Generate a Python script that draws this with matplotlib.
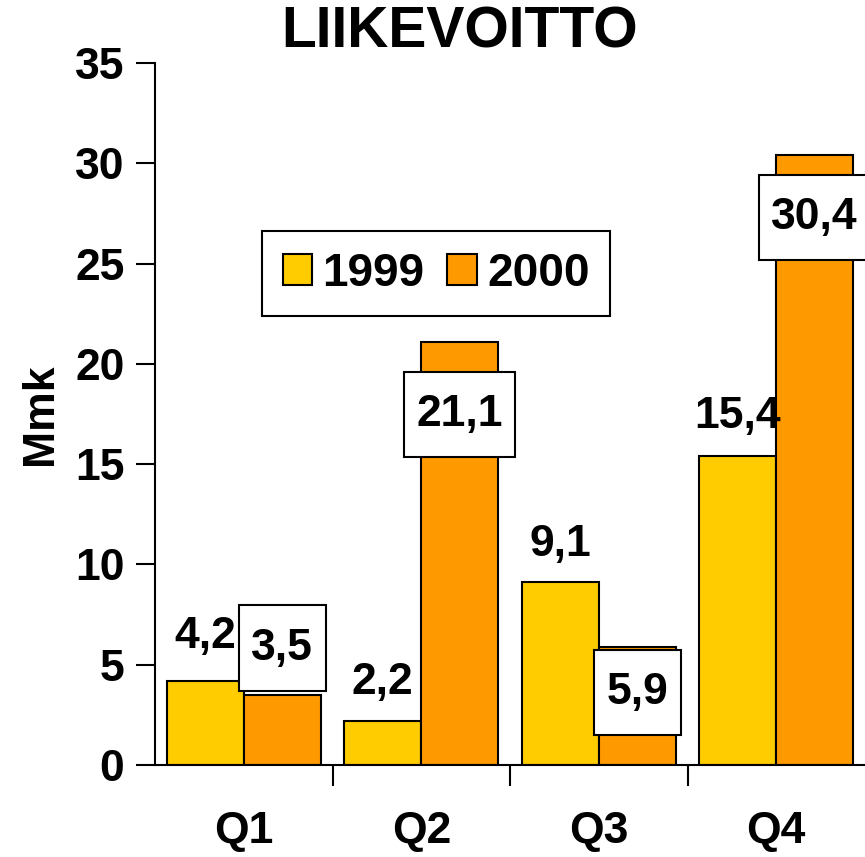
import matplotlib
matplotlib.use("Agg")
import matplotlib.pyplot as plt
from matplotlib.path import Path
import numpy as np

plt.rcParams['font.family'] = ['Liberation Sans', 'DejaVu Sans']
plt.rcParams['font.weight'] = 'bold'

categories = ["Q1", "Q2", "Q3", "Q4"]
series_names = ["1999", "2000"]
values_1999 = [4.2, 2.2, 9.1, 15.4]
values_2000 = [3.5, 21.1, 5.9, 30.4]
# label centre heights (data units) as placed in the original
label_y_1999 = [6.4, 4.1, 11.0, 17.4]
label_y_2000 = [5.83, 17.47, 3.61, 27.29]
yticks = [0, 5, 10, 15, 20, 25, 30, 35]

c1999 = "#FFCC00"
c2000 = "#FF9900"


def box_style(x0, y0, width, height, mutation_size):
    # asymmetric padding: narrower sides, taller top/bottom
    px = 0.28 * mutation_size
    py = 0.50 * mutation_size
    x0, y0 = x0 - px, y0 - py
    x1, y1 = x0 + width + 2 * px, y0 + height + 2 * py
    return Path([(x0, y0), (x1, y0), (x1, y1), (x0, y1), (x0, y0)],
                [Path.MOVETO, Path.LINETO, Path.LINETO, Path.LINETO, Path.CLOSEPOLY])


fig = plt.figure(figsize=(8.65, 8.57), dpi=100)
ax = fig.add_axes([155/865, 1-765/857, 710/865, (765-63)/857])

x = np.arange(len(categories))
w = 0.434
ax.bar(x - w/2, values_1999, w, color=c1999, edgecolor="black", linewidth=1.5, label=series_names[0])
ax.bar(x + w/2, values_2000, w, color=c2000, edgecolor="black", linewidth=1.5, label=series_names[1])

fmt = lambda v: f"{v:.1f}".replace(".", ",")
for xi, v, ly in zip(x, values_1999, label_y_1999):
    ax.text(xi - w/2, ly, fmt(v), ha="center", va="center", fontsize=32, fontweight="bold")
for xi, v, ly in zip(x, values_2000, label_y_2000):
    ax.text(xi + w/2, ly, fmt(v), ha="center", va="center", fontsize=32, fontweight="bold",
            bbox=dict(boxstyle=box_style, facecolor="white", edgecolor="black", linewidth=1.5),
            clip_on=False, zorder=5)

ax.set_xlim(-0.5, 3.5)
ax.set_ylim(0, 35)
ax.set_yticks(yticks)
ax.set_yticklabels([str(t) for t in yticks], fontsize=32, fontweight="bold")
ax.set_xticks(x)
ax.set_xticklabels(categories, fontsize=32, fontweight="bold")
ax.tick_params(axis="x", which="major", length=0, pad=33)
ax.set_xticks([0.5, 1.5, 2.5], minor=True)
ax.tick_params(axis="x", which="minor", length=15, width=1.5, direction="out")
ax.tick_params(axis="y", length=14, width=1.5, direction="out", pad=8)

for s in ["top", "right"]:
    ax.spines[s].set_visible(False)
ax.spines["left"].set_linewidth(1.5)
ax.spines["bottom"].set_linewidth(1.5)

ax.set_ylabel("Mmk", fontsize=32, fontweight="bold", labelpad=10)

fig.text(460/865, 1-32/857, "LIIKEVOITTO", ha="center", va="center", fontsize=41, fontweight="bold")

leg = ax.legend(loc="upper left", bbox_to_anchor=(262/865, 1-231/857), bbox_transform=fig.transFigure,
                ncol=2, frameon=True, fancybox=False, edgecolor="black",
                handlelength=0.65, handleheight=0.65, handletextpad=0.22, columnspacing=0.5,
                borderpad=0.45, borderaxespad=0, prop={"weight": "bold", "size": 33})
leg.get_frame().set_linewidth(1.5)
leg.get_frame().set_alpha(1)

fig.savefig("out.png", dpi=100)
